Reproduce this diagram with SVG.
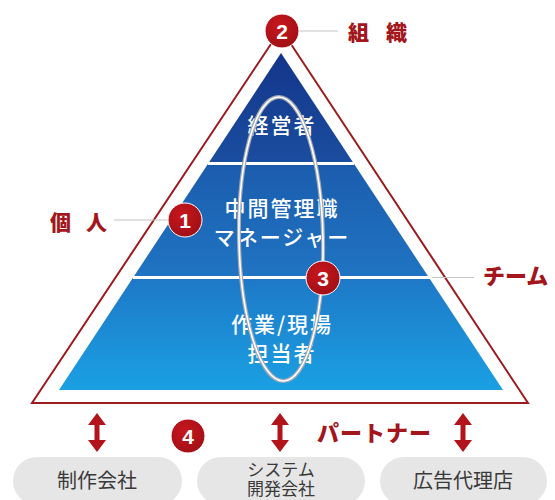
<svg xmlns="http://www.w3.org/2000/svg" width="555" height="500" viewBox="0 0 555 500">
<defs>
<linearGradient id="blue" gradientUnits="userSpaceOnUse" x1="0" y1="53" x2="0" y2="390">
<stop offset="0" stop-color="#13358a"/>
<stop offset="0.32" stop-color="#1a4d9f"/>
<stop offset="0.34" stop-color="#1c5dae"/>
<stop offset="0.66" stop-color="#1f74c2"/>
<stop offset="0.68" stop-color="#1e7ac8"/>
<stop offset="1" stop-color="#1aa0e3"/>
</linearGradient>
<radialGradient id="red" cx="0.4" cy="0.35" r="0.7">
<stop offset="0" stop-color="#c8161d"/>
<stop offset="1" stop-color="#a00f16"/>
</radialGradient>
</defs>
<style>
.lvl{font-family:"Noto Sans CJK JP","Noto Sans",sans-serif;font-size:21px;font-weight:500;fill:#ffffff;text-anchor:middle;letter-spacing:2px}
.lab{font-family:"Noto Sans CJK JP","Noto Sans",sans-serif;font-size:21px;font-weight:900;fill:#a3161c}
.num{font-family:"Liberation Sans","Noto Sans",sans-serif;font-size:21px;font-weight:700;fill:#ffffff;text-anchor:middle}
.badge{fill:url(#red);stroke:#ffffff;stroke-width:1}
.pill{fill:#e6e6e6}
.ptxt{font-family:"Noto Sans CJK JP","Noto Sans",sans-serif;font-size:20px;fill:#3a3a3a;text-anchor:middle}
.lead{stroke:#c4c4c4;stroke-width:1.2;fill:none}
.arr{fill:#b3141b}
</style>
<rect width="555" height="500" fill="#ffffff"/>
<g id="outer-triangle">
<polygon points="281,29 32,403 528,403" fill="none" stroke="#9a1c1f" stroke-width="2"/>
</g>
<g id="pyramid">
<polygon points="281,53 59,390 503,390" fill="url(#blue)"/>
<line x1="208" y1="163.5" x2="354" y2="163.5" stroke="#ffffff" stroke-width="3"/>
<line x1="133" y1="277.5" x2="432" y2="277.5" stroke="#ffffff" stroke-width="3"/>
</g>
<g id="level-top">
<text class="lvl" x="282" y="133">経営者</text>
</g>
<g id="level-middle">
<text class="lvl" x="282" y="216">中間管理職</text>
<text class="lvl" x="282" y="245">マネージャー</text>
</g>
<g id="level-bottom">
<text class="lvl" x="282" y="332">作業/現場</text>
<text class="lvl" x="282" y="361">担当者</text>
</g>
<g id="loop">
<ellipse cx="281" cy="239" rx="42" ry="142" transform="rotate(-1 281 239)" fill="none" stroke="#a2a9b5" stroke-width="4"/>
<ellipse cx="281" cy="239" rx="42" ry="142" transform="rotate(-1 281 239)" fill="none" stroke="#ffffff" stroke-width="1.6"/>
</g>
<g id="connectors">
<line class="lead" x1="299" y1="31" x2="338" y2="31"/>
<line class="lead" x1="114" y1="220" x2="168" y2="220"/>
<line class="lead" x1="432" y1="277.5" x2="474" y2="277.5"/>
<polygon class="arr" points="97,413 106,425 99.5,425 99.5,440 106,440 97,452 88,440 94.5,440 94.5,425 88,425"/>
<polygon class="arr" points="280,413 289,425 282.5,425 282.5,440 289,440 280,452 271,440 277.5,440 277.5,425 271,425"/>
<polygon class="arr" points="463,413 472,425 465.5,425 465.5,440 472,440 463,452 454,440 460.5,440 460.5,425 454,425"/>
</g>
<g id="badge-2">
<circle class="badge" cx="282" cy="31" r="17"/>
<text class="num" x="282" y="38.5">2</text>
<text class="lab" x="348" y="40">組</text>
<text class="lab" x="386" y="40">織</text>
</g>
<g id="badge-1">
<circle class="badge" cx="185" cy="220" r="17"/>
<text class="num" x="185" y="227.5">1</text>
<text class="lab" x="50" y="230">個</text>
<text class="lab" x="86" y="230">人</text>
</g>
<g id="badge-3">
<circle class="badge" cx="323" cy="278" r="17"/>
<text class="num" x="323" y="285.5">3</text>
<text class="lab" x="483" y="284" style="font-size:22px">チーム</text>
</g>
<g id="badge-4">
<circle class="badge" cx="188" cy="436" r="17"/>
<text class="num" x="188" y="443.5">4</text>
<text class="lab" x="317" y="441" style="font-size:22px;letter-spacing:1px">パートナー</text>
</g>
<g id="partner-1">
<rect class="pill" x="13" y="457" width="169" height="48" rx="24"/>
<text class="ptxt" x="97" y="488">制作会社</text>
</g>
<g id="partner-2">
<rect class="pill" x="197" y="457" width="168" height="48" rx="24"/>
<text class="ptxt" x="281" y="476" style="font-size:17px">システム</text>
<text class="ptxt" x="281" y="495" style="font-size:17px">開発会社</text>
</g>
<g id="partner-3">
<rect class="pill" x="380" y="457" width="167" height="48" rx="24"/>
<text class="ptxt" x="463" y="488">広告代理店</text>
</g>
</svg>
